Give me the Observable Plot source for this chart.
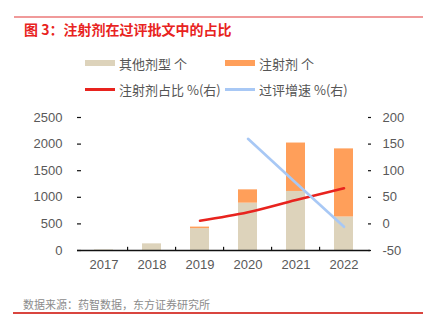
<!DOCTYPE html>
<html><head><meta charset="utf-8">
<script src="https://cdn.jsdelivr.net/npm/d3@7"></script>
<script src="https://cdn.jsdelivr.net/npm/@observablehq/plot@0.6"></script>
<style>
html,body{margin:0;padding:0;background:#fff;}
#wrap{position:relative;width:423px;height:329px;overflow:hidden;font-family:"Liberation Sans","Noto Sans CJK SC",sans-serif;}
#wrap svg{position:absolute;left:0;top:0;}
.topline{position:absolute;left:14px;top:16px;width:409px;height:1.5px;background:#F09A9A;}
.botline{position:absolute;left:13px;top:312px;width:410px;height:1.5px;background:#D9453F;}
.title{position:absolute;left:24px;top:19px;font-size:14px;font-weight:bold;color:#E8231E;font-family:"Noto Sans CJK SC",sans-serif;white-space:nowrap;}
.foot{position:absolute;left:23px;top:296px;font-size:11px;color:#8c8c8c;font-family:"Noto Sans CJK SC",sans-serif;white-space:nowrap;}
.leg{position:absolute;font-size:13px;color:#555;font-family:"Noto Sans CJK SC",sans-serif;white-space:nowrap;display:flex;align-items:center;}
.sw{display:inline-block;width:30px;margin-right:4px;}
</style></head>
<body><div id="wrap">
<div class="topline"></div>
<div class="title">图 3：注射剂在过评批文中的占比</div>
<div id="legend"></div>
<div class="foot">数据来源：药智数据，东方证券研究所</div>
<div class="botline"></div>
</div>
<script>
const years = ["2017","2018","2019","2020","2021","2022"];
const otherCount = [10, 125, 410, 890, 1110, 630];
const injectionCount = [0, 0, 30, 250, 910, 1280];
const injectionShare = [null, null, 6, 22, 45, 67];
const approvalGrowth = [null, null, null, 160, 77, -5.5];
const leftTicks = [0, 500, 1000, 1500, 2000, 2500];
const rightTicks = [-50, 0, 50, 100, 150, 200];
const seriesNames = ["其他剂型 个", "注射剂 个", "注射剂占比 %(右)", "过评增速 %(右)"];
const colors = ["#DDD3BB", "#FF9F5A", "#E8231E", "#A8C8F5"];

// right axis maps onto the left scale: -50..200 -> 0..2500
const toLeft = v => (v + 50) * 10;

const bars = [];
years.forEach((y, i) => {
  bars.push({year: y, series: seriesNames[0], value: otherCount[i]});
  bars.push({year: y, series: seriesNames[1], value: injectionCount[i]});
});
const share = years.map((y, i) => ({year: y, v: injectionShare[i]})).filter(d => d.v != null);
const growth = years.map((y, i) => ({year: y, v: approvalGrowth[i]})).filter(d => d.v != null);

const W = 423, H = 329;
const mL = 77, mR = 53, mT = 117, mB = 79;
const step = (W - mL - mR) / years.length;

const chart = Plot.plot({
  width: W, height: H,
  marginLeft: mL, marginRight: mR, marginTop: mT, marginBottom: mB,
  style: {fontFamily: "Liberation Sans, Arial, sans-serif", fontSize: "13px", color: "#595959", background: "transparent"},
  x: {type: "band", domain: years, paddingInner: 0.6, paddingOuter: 0.3, label: null},
  y: {domain: [0, 2500], label: null},
  color: {domain: seriesNames, range: colors},
  marks: [
    Plot.barY(bars, {x: "year", y: "value", fill: "series", order: seriesNames}),
    Plot.line(share, {x: "year", y: d => toLeft(d.v), stroke: colors[2], strokeWidth: 2.6, curve: "catmull-rom"}),
    Plot.line(growth, {x: "year", y: d => toLeft(d.v), stroke: colors[3], strokeWidth: 2.6}),
    Plot.ruleY([0], {stroke: "#111", strokeWidth: 1.3}),
    Plot.axisX({tickSize: 0, tickPadding: 9, fill: "#595959", fontSize: 13}),
    Plot.ruleX(years.slice(1), {x: d => d, y1: 0, y2: 60, dx: -step / 2, stroke: "#111", strokeWidth: 1.2}),
    Plot.axisY({anchor: "left", ticks: leftTicks, tickFormat: d => String(d), tickSize: -4, tickPadding: 19, stroke: "#111", strokeWidth: 1.2, fill: "#595959", fontSize: 13}),
    Plot.ruleX([0], {frameAnchor: "left", y1: 0, y2: 2500, stroke: "#111", strokeWidth: 1.3}),
    Plot.axisY({anchor: "right", ticks: rightTicks.map(toLeft), tickFormat: v => String(v / 10 - 50), tickSize: -3, tickPadding: 15, stroke: "#111", strokeWidth: 1.2, fill: "#595959", fontSize: 13}),
    Plot.ruleX([0], {frameAnchor: "right", y1: 0, y2: 2500, stroke: "#111", strokeWidth: 1.3})
  ]
});
document.getElementById("wrap").insertBefore(chart, document.getElementById("wrap").firstChild);

// legend
const legPos = [[85, 63, "bar"], [225, 63, "bar"], [85, 89, "line"], [225, 89, "line"]];
const legend = document.getElementById("legend");
seriesNames.forEach((name, i) => {
  const [x, y, kind] = legPos[i];
  const el = document.createElement("div");
  el.className = "leg";
  el.style.left = x + "px";
  el.style.top = (y - 10) + "px";
  el.style.height = "20px";
  const sw = document.createElement("span");
  sw.className = "sw";
  sw.style.height = kind === "bar" ? "6px" : "3px";
  sw.style.background = colors[i];
  el.appendChild(sw);
  el.appendChild(document.createTextNode(name));
  legend.appendChild(el);
});
</script>
</body></html>
